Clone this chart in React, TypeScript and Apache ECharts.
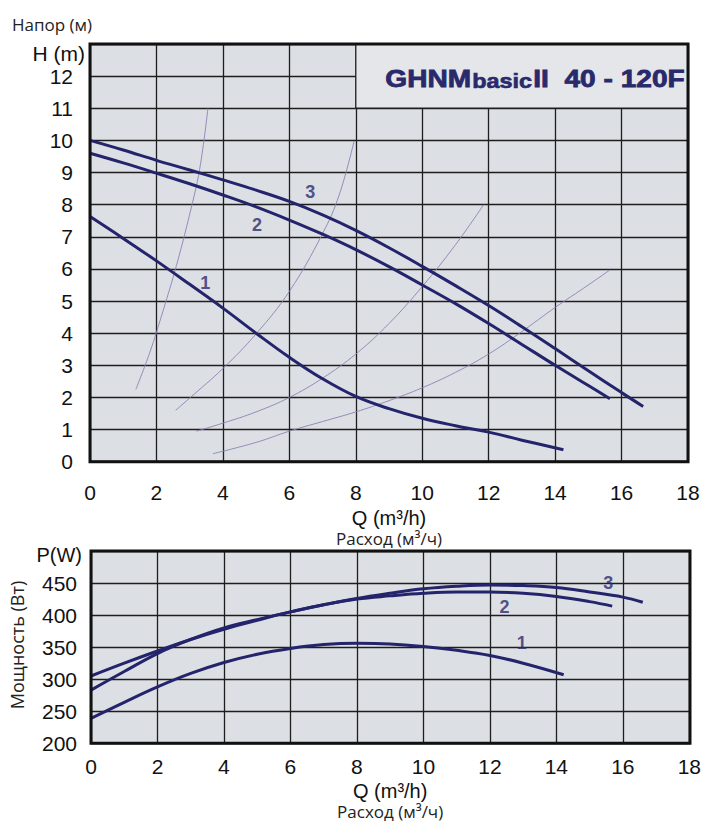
import React, { useEffect, useRef } from "react";
import * as echarts from "echarts";

// ---------- Data ----------
const xTicks = [0, 2, 4, 6, 8, 10, 12, 14, 16, 18];

// Head curves H(Q): Q in m3/h, H in m
const headQ1 = [0, 1, 2, 3, 4, 5, 6, 7, 8, 9, 10, 11, 12, 13, 14.25];
const headH1 = [7.63, 6.95, 6.25, 5.52, 4.78, 4.0, 3.25, 2.58, 2.03, 1.65, 1.35, 1.12, 0.92, 0.67, 0.37];
const headQ2 = [0, 1, 2, 3, 4, 5, 6, 7, 8, 9, 10, 11, 12, 13, 14, 15, 15.65];
const headH2 = [9.6, 9.3, 8.98, 8.65, 8.3, 7.93, 7.52, 7.08, 6.6, 6.07, 5.5, 4.92, 4.3, 3.65, 3.0, 2.37, 1.96];
const headQ3 = [0, 1, 2, 3, 4, 5, 6, 7, 8, 9, 10, 11, 12, 13, 14, 15, 16, 16.65];
const headH3 = [10.0, 9.7, 9.38, 9.08, 8.77, 8.45, 8.1, 7.68, 7.2, 6.66, 6.08, 5.48, 4.86, 4.2, 3.52, 2.83, 2.15, 1.72];

// System (thin) curves
const sysQA = [1.38, 1.8, 2.2, 2.6, 3.0, 3.3, 3.55];
const sysHA = [2.25, 3.4, 4.7, 6.1, 7.7, 9.1, 11.0];
const sysQB = [2.58, 3, 4, 5, 6, 7, 7.5, 7.95];
const sysHB = [1.6, 1.98, 2.9, 3.98, 5.3, 7.1, 8.3, 9.98];
const sysQC = [3.2, 4, 5, 6, 7, 8, 9, 10, 11, 11.85];
const sysHC = [0.95, 1.2, 1.55, 2.0, 2.6, 3.35, 4.3, 5.45, 6.75, 8.0];
const sysQD = [3.7, 5, 6, 7, 8, 9, 10, 11, 12, 13, 14, 15, 15.65];
const sysHD = [0.25, 0.6, 0.95, 1.25, 1.55, 1.9, 2.3, 2.78, 3.35, 4.05, 4.8, 5.5, 5.97];

// Power curves P(Q): W
const powQ1 = [0, 1, 2, 3, 4, 5, 6, 7, 8, 9, 10, 11, 12, 13, 14.22];
const powP1 = [239, 264, 288, 309, 326, 339, 348, 354, 356, 355, 351, 345, 337, 325, 307];
const powQ2 = [0, 1, 2, 3, 4, 5, 6, 7, 8, 9, 10, 11, 12, 13, 14, 15, 15.68];
const powP2 = [283, 312, 340, 362, 380, 393, 405, 416, 425, 430, 434, 436, 436, 434, 429, 421, 414];
const powQ3 = [0, 1, 2, 3, 4, 5, 6, 7, 8, 9, 10, 11, 12, 13, 14, 15, 16, 16.6];
const powP3 = [305, 325, 344, 362, 378, 392, 405, 416, 426, 434, 441, 445, 447, 446, 443, 436, 428, 420];

// Curve number labels
const headLabels = [
  [3.47, 5.57, "1"],
  [5.03, 7.38, "2"],
  [6.63, 8.38, "3"],
];
const powLabels = [
  [12.96, 356, "1"],
  [12.44, 413, "2"],
  [15.56, 450, "3"],
];

const titleBox = [
  [8, 11],
  [18, 13],
];

// ---------- Styles ----------
const NAVY = "#24246c";
const THIN = "#8c82b6";
const GRID_LINE = "#1e1e1e";
const PLOT_BG = "#dcdfe3";
const TICK_FONT = "'Liberation Sans', Arial, sans-serif";
const CYR_FONT = "'Open Sans', 'Noto Sans', sans-serif";
const TITLE_C = "#29296c";

const G1 = { left: 90, top: 44, width: 598, height: 417.7 };
const G2 = { left: 91, top: 551, width: 599, height: 192.3 };

const zip = (xs: number[], ys: number[]) => xs.map((x, i) => [x, ys[i]]);

export default function App() {
  const ref = useRef<HTMLDivElement>(null);

  useEffect(() => {
    if (!ref.current) return;
    const chart = echarts.init(ref.current, null, { renderer: "svg" });

    const xAxisBase = (
      gridIndex: number,
      margin: number,
      nameGap: number,
      qLH: number,
      rFS: number,
      rLH: number
    ) => ({
      type: "value",
      gridIndex,
      min: 0,
      max: 18,
      interval: 2,
      axisLine: { show: false },
      axisTick: { show: false },
      splitLine: { show: true, lineStyle: { color: GRID_LINE, width: 1.3 } },
      axisLabel: {
        fontSize: 21,
        fontFamily: TICK_FONT,
        color: "#111",
        margin,
        formatter: (v: number) => (xTicks.includes(v) ? String(v) : ""),
      },
      name: "{q|Q (m³/h)}\n{r|Расход (м³/ч)}",
      nameLocation: "middle",
      nameGap,
      nameTextStyle: {
        rich: {
          q: { fontSize: 20, fontFamily: TICK_FONT, color: "#111", lineHeight: qLH, align: "center" },
          r: { fontSize: rFS, fontFamily: CYR_FONT, color: "#222", lineHeight: rLH, align: "center" },
        },
      },
    });

    const mainLine = (name: string, data: number[][], xi: number) => ({
      name,
      type: "line",
      xAxisIndex: xi,
      yAxisIndex: xi,
      data,
      smooth: 0.4,
      showSymbol: false,
      symbol: "none",
      lineStyle: { color: NAVY, width: 3 },
      z: 4,
    });

    const thinLine = (name: string, data: number[][], extra: any = {}) => ({
      name,
      type: "line",
      xAxisIndex: 0,
      yAxisIndex: 0,
      data,
      smooth: 0.4,
      showSymbol: false,
      symbol: "none",
      lineStyle: { color: THIN, width: 0.9 },
      z: 3,
      ...extra,
    });

    const labelSeries = (data: any[], xi: number) => ({
      type: "scatter",
      xAxisIndex: xi,
      yAxisIndex: xi,
      data,
      symbolSize: 1,
      itemStyle: { color: "rgba(0,0,0,0)" },
      label: {
        show: true,
        position: "inside",
        formatter: (p: any) => p.value[2],
        fontSize: 18,
        fontWeight: "bold",
        fontFamily: TICK_FONT,
        color: "#2a2a6e",
      },
      z: 5,
    });

    const option: any = {
      animation: false,
      backgroundColor: "#ffffff",
      grid: [
        { ...G1, show: true, backgroundColor: PLOT_BG, borderWidth: 0 },
        { ...G2, show: true, backgroundColor: PLOT_BG, borderWidth: 0 },
      ],
      xAxis: [xAxisBase(0, 20, 43, 22, 17, 20), xAxisBase(1, 13, 37, 21, 17, 21)],
      yAxis: [
        {
          type: "value",
          gridIndex: 0,
          min: 0,
          max: 13,
          interval: 1,
          axisLine: { show: false },
          axisTick: { show: false },
          splitLine: { show: true, lineStyle: { color: GRID_LINE, width: 1.3 } },
          axisLabel: {
            fontSize: 21,
            fontFamily: TICK_FONT,
            color: "#111",
            margin: 17,
            formatter: (v: number) => (v === 13 ? "" : String(v)),
          },
          name: "H (m)",
          nameLocation: "end",
          nameGap: -9,
          nameTextStyle: {
            fontSize: 21,
            fontFamily: TICK_FONT,
            color: "#111",
            align: "right",
            verticalAlign: "middle",
            padding: [0, 5, 0, 0],
          },
        },
        {
          type: "value",
          gridIndex: 1,
          min: 200,
          max: 500,
          interval: 50,
          axisLine: { show: false },
          axisTick: { show: false },
          splitLine: { show: true, lineStyle: { color: GRID_LINE, width: 1.3 } },
          axisLabel: {
            fontSize: 21,
            fontFamily: TICK_FONT,
            color: "#111",
            margin: 14,
            formatter: (v: number) => (v === 500 ? "" : String(v)),
          },
          name: "P(W)",
          nameLocation: "end",
          nameGap: -4,
          nameTextStyle: {
            fontSize: 20,
            fontFamily: TICK_FONT,
            color: "#111",
            align: "right",
            verticalAlign: "middle",
            padding: [0, 9, 0, 0],
          },
        },
      ],
      series: [
        thinLine("sysA", zip(sysQA, sysHA), {
          markArea: {
            silent: true,
            itemStyle: { color: "#e4e6e9", borderColor: GRID_LINE, borderWidth: 1.3, opacity: 1 },
            data: [[{ coord: titleBox[0] }, { coord: titleBox[1] }]],
          },
        }),
        thinLine("sysB", zip(sysQB, sysHB)),
        thinLine("sysC", zip(sysQC, sysHC)),
        thinLine("sysD", zip(sysQD, sysHD)),
        mainLine("H1", zip(headQ1, headH1), 0),
        mainLine("H2", zip(headQ2, headH2), 0),
        mainLine("H3", zip(headQ3, headH3), 0),
        labelSeries(headLabels, 0),
        mainLine("P1", zip(powQ1, powP1), 1),
        mainLine("P2", zip(powQ2, powP2), 1),
        mainLine("P3", zip(powQ3, powP3), 1),
        labelSeries(powLabels, 1),
      ],
      graphic: [
        {
          type: "rect",
          z: 100,
          silent: true,
          shape: { x: G1.left, y: G1.top, width: G1.width, height: G1.height },
          style: { fill: "none", stroke: "#111", lineWidth: 3 },
        },
        {
          type: "rect",
          z: 100,
          silent: true,
          shape: { x: G2.left, y: G2.top, width: G2.width, height: G2.height },
          style: { fill: "none", stroke: "#111", lineWidth: 3 },
        },
        {
          type: "text",
          z: 101,
          x: 535,
          y: 79,
          scaleX: 1.17,
          style: {
            text: "{a|GHNM}{b|basic}{a|II  40 - 120F}",
            align: "center",
            verticalAlign: "middle",
            rich: {
              a: {
                fontSize: 24,
                fontWeight: "bold",
                fontFamily: TICK_FONT,
                fill: TITLE_C,
                stroke: TITLE_C,
                lineWidth: 0.8,
              },
              b: {
                fontSize: 20,
                fontWeight: "bold",
                fontFamily: TICK_FONT,
                fill: TITLE_C,
                stroke: TITLE_C,
                lineWidth: 0.6,
                padding: [5, 1, 0, 1],
              },
            },
          },
        },
        {
          type: "text",
          x: 12,
          y: 24,
          style: {
            text: "Напор (м)",
            fontSize: 17,
            fontFamily: CYR_FONT,
            fill: "#222",
            align: "left",
            verticalAlign: "middle",
          },
        },
        {
          type: "text",
          x: 17,
          y: 645,
          rotation: Math.PI / 2,
          style: {
            text: "Мощность (Вт)",
            fontSize: 18,
            fontFamily: CYR_FONT,
            fill: "#222",
            align: "center",
            verticalAlign: "middle",
          },
        },
      ],
    };

    chart.setOption(option);
    return () => chart.dispose();
  }, []);

  return (
    <div
      ref={ref}
      style={{ position: "fixed", left: 0, top: 0, width: 704, height: 822, background: "#fff" }}
    />
  );
}
